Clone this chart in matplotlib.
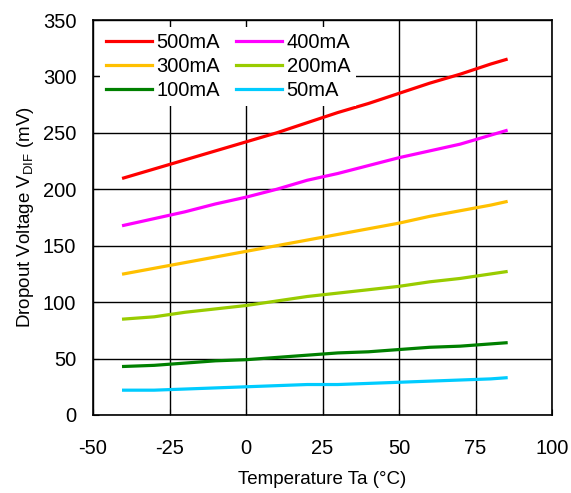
import matplotlib
matplotlib.use("Agg")
import matplotlib.pyplot as plt

plt.rcParams['font.family'] = ['Liberation Sans', 'DejaVu Sans']
plt.rcParams['mathtext.fontset'] = 'custom'
plt.rcParams['mathtext.rm'] = 'Liberation Sans'
plt.rcParams['axes.unicode_minus'] = False

temps = [-40, -30, -20, -10, 0, 10, 20, 30, 40, 50, 60, 70, 80, 85]
v500 = [210, 218, 226, 234, 242, 250, 259, 268, 276, 285, 294, 302, 311, 315]
v400 = [168, 174, 180, 187, 193, 200, 208, 214, 221, 228, 234, 240, 248, 252]
v300 = [125, 130, 135, 140, 145, 150, 155, 160, 165, 170, 176, 181, 186, 189]
v200 = [85, 87, 91, 94, 97, 101, 105, 108, 111, 114, 118, 121, 125, 127]
v100 = [43, 44, 46, 48, 49, 51, 53, 55, 56, 58, 60, 61, 63, 64]
v50 = [22, 22, 23, 24, 25, 26, 27, 27, 28, 29, 30, 31, 32, 33]

labels = ['500mA', '400mA', '300mA', '200mA', '100mA', '50mA']
colors = ['#FF0000', '#FF00FF', '#FFC000', '#99CC00', '#008000', '#00CCFF']
series = [v500, v400, v300, v200, v100, v50]

xticks = [-50, -25, 0, 25, 50, 75, 100]
yticks = [0, 50, 100, 150, 200, 250, 300, 350]

fig = plt.figure(figsize=(5.71, 4.93), dpi=100)
ax = fig.add_axes([93 / 571, 1 - 415 / 493, (552 - 93) / 571, (415 - 20) / 493])
handles = []
for s, c, l in zip(series, colors, labels):
    h, = ax.plot(temps, s, color=c, lw=2.3, label=l)
    handles.append(h)

ax.set_xlim(-50, 100)
ax.set_ylim(0, 350)
ax.set_xticks(xticks)
ax.set_yticks(yticks)
ax.grid(True, color='black', lw=1.0)
ax.set_axisbelow(True)
ax.tick_params(direction='in', labelsize=14.5, length=4)
ax.tick_params(axis='y', pad=12)
ax.tick_params(axis='x', pad=17)
for sp in ax.spines.values():
    sp.set_linewidth(1.2)
ax.set_xlabel('Temperature Ta (°C)', fontsize=13.5, labelpad=10)
ax.set_ylabel('Dropout Voltage V$_{\\mathrm{DIF}}$ (mV)', fontsize=13.5, labelpad=5)

order = [0, 2, 4, 1, 3, 5]
leg = ax.legend([handles[i] for i in order], [labels[i] for i in order],
                loc='upper left', ncol=2, fontsize=14.5, frameon=True, fancybox=False,
                edgecolor='none', facecolor='white', framealpha=1,
                handlelength=2.3, handletextpad=0.2, columnspacing=0.8,
                labelspacing=0.25, borderpad=0.3, borderaxespad=0.35)

fig.savefig('out.png', dpi=100)
